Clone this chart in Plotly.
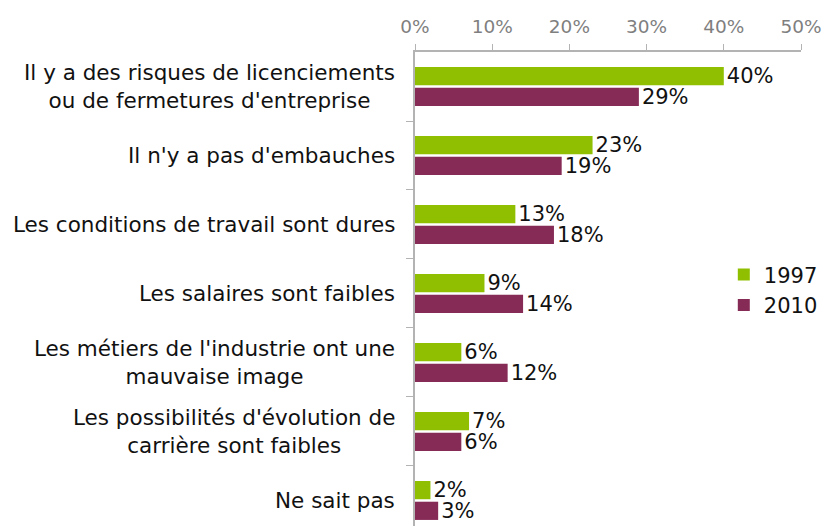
import plotly.graph_objects as go

categories = [
    "Il y a des risques de licenciements<br>ou de fermetures d'entreprise",
    "Il n'y a pas d'embauches",
    "Les conditions de travail sont dures",
    "Les salaires sont faibles",
    "Les métiers de l'industrie ont une<br>mauvaise image",
    "Les possibilités d'évolution de<br>carrière sont faibles",
    "Ne sait pas",
]
values_1997 = [40, 23, 13, 9, 6, 7, 2]
values_2010 = [29, 19, 18, 14, 12, 6, 3]
x_ticks = [0, 10, 20, 30, 40, 50]
x_tick_labels = ["0%", "10%", "20%", "30%", "40%", "50%"]

FONT = "DejaVu Sans"
pos = list(range(len(categories)))

fig = go.Figure()
fig.add_trace(go.Bar(
    y=pos, x=values_1997, orientation="h", name="1997",
    marker=dict(color="#8fbf00", line=dict(width=0)),
    text=[f"{v}%" for v in values_1997], textposition="outside",
    constraintext="none",
    textfont=dict(family=FONT, size=21, color="#111111"),
    cliponaxis=False,
))
fig.add_trace(go.Bar(
    y=pos, x=values_2010, orientation="h", name="2010",
    marker=dict(color="#862b56", line=dict(width=0)),
    text=[f"{v}%" for v in values_2010], textposition="outside",
    constraintext="none",
    textfont=dict(family=FONT, size=21, color="#111111"),
    cliponaxis=False,
))

for i, c in enumerate(categories):
    fig.add_annotation(
        x=0, xref="paper", y=i, yref="y", text=c, showarrow=False,
        xanchor="right", yanchor="middle", align="center", xshift=-18,
        font=dict(family=FONT, size=21.5, color="#111111"),
    )

fig.update_layout(
    width=823, height=526,
    margin=dict(l=415, r=22, t=52, b=0),
    paper_bgcolor="white", plot_bgcolor="white",
    barmode="group", bargap=0.4, bargroupgap=0.12,
    font=dict(family=FONT, size=19, color="#111111"),
    showlegend=True,
    legend=dict(x=0.8, y=0.498, xanchor="left", yanchor="middle",
                font=dict(family=FONT, size=21, color="#111111"),
                bgcolor="rgba(0,0,0,0)", itemwidth=30, tracegroupgap=6),
)
fig.update_xaxes(
    side="top", range=[0, 50], tickvals=x_ticks, ticktext=x_tick_labels,
    showgrid=False, zeroline=False, showline=True, linecolor="#b3b3b3", linewidth=1.5,
    ticks="outside", ticklen=6, tickcolor="#b3b3b3", ticklabelstandoff=4,
    tickfont=dict(family=FONT, size=18.5, color="#7f7f7f"),
)
fig.update_yaxes(
    range=[6.37, -0.5], tickvals=[p + 0.5 for p in pos], showticklabels=False,
    showgrid=False, zeroline=False, showline=True, linecolor="#b3b3b3", linewidth=1.5,
    ticks="outside", ticklen=7, tickcolor="#b3b3b3",
)

fig.write_html(
    "out.html",
    config={"displayModeBar": False},
    post_script="document.body.style.margin='0';document.body.style.overflow='hidden';",
)
